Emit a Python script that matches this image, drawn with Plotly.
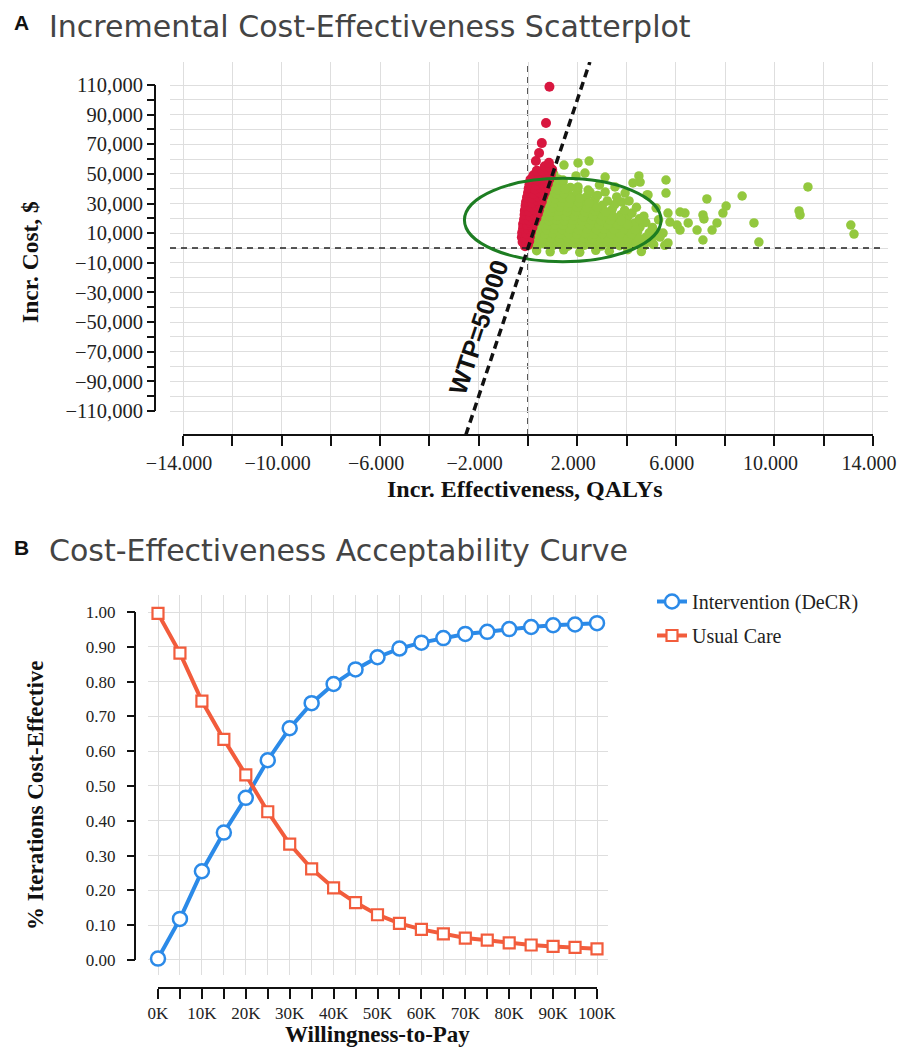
import plotly.graph_objects as go

# ---------------- Panel A data (Incr. effectiveness QALYs, Incr. cost $k) ----------------
green_points = [
    (0.35, -1.8), (0.9, -2.6), (1.45, -1.2), (2.1, -2.9), (2.75, -1.6), (3.3, -2.2), (4.05, -1.1), (4.6, -2.4),
    (0.08, 2.1), (0.38, 1.4), (0.7, 2.6), (1.02, 1.7), (1.33, 2.4), (1.62, 1.2), (1.95, 2.8), (2.3, 1.9),
    (2.62, 2.5), (2.98, 1.3), (3.35, 2.2), (3.72, 1.6), (4.2, 2.7), (4.7, 1.4), (5.1, 2.3), (5.55, 1.8),
    (0.14, 5.3), (0.45, 4.6), (0.76, 5.8), (1.08, 4.9), (1.4, 5.6), (1.72, 4.4), (2.05, 5.5), (2.38, 4.8),
    (2.72, 5.9), (3.08, 4.5), (3.42, 5.4), (3.8, 4.9), (4.25, 5.7), (4.62, 4.3), (5.0, 5.2),
    (0.2, 8.2), (0.5, 7.6), (0.82, 8.7), (1.12, 7.9), (1.45, 8.5), (1.78, 7.4), (2.12, 8.8), (2.46, 7.8),
    (2.82, 8.4), (3.18, 7.5), (3.52, 8.9), (3.92, 7.7), (4.35, 8.3), (4.78, 7.2), (5.3, 8.0),
    (0.26, 11.3), (0.56, 10.6), (0.87, 11.8), (1.18, 10.9), (1.5, 11.5), (1.84, 10.4), (2.17, 11.7),
    (2.52, 10.8), (2.88, 11.4), (3.24, 10.5), (3.62, 11.9), (4.02, 10.7), (4.45, 11.2), (4.92, 10.3),
    (0.31, 14.2), (0.62, 13.6), (0.92, 14.8), (1.22, 13.9), (1.56, 14.5), (1.9, 13.4), (2.26, 14.7),
    (2.62, 13.8), (2.98, 14.4), (3.34, 13.5), (3.74, 14.9), (4.14, 13.7), (4.55, 14.3), (5.05, 13.9),
    (0.37, 17.4), (0.66, 16.6), (0.97, 17.8), (1.27, 16.9), (1.62, 17.5), (1.97, 16.4), (2.32, 17.7),
    (2.72, 16.8), (3.08, 17.3), (3.48, 16.5), (3.88, 17.9), (4.32, 16.7), (4.78, 17.2),
    (0.43, 20.3), (0.72, 19.6), (1.02, 20.8), (1.32, 19.9), (1.67, 20.5), (2.02, 19.4), (2.42, 20.7),
    (2.82, 19.8), (3.22, 20.4), (3.62, 19.5), (4.05, 20.9), (4.52, 19.7),
    (0.49, 23.2), (0.77, 22.6), (1.07, 23.8), (1.37, 22.9), (1.72, 23.5), (2.08, 22.4), (2.48, 23.7),
    (2.92, 22.8), (3.32, 23.3), (3.78, 22.5), (4.22, 23.6),
    (0.55, 26.1), (0.82, 25.6), (1.12, 26.7), (1.42, 25.9), (1.78, 26.5), (2.12, 25.4), (2.52, 26.6),
    (2.97, 25.8), (3.42, 26.3), (3.92, 25.5),
    (0.61, 29.2), (0.87, 28.6), (1.17, 29.7), (1.47, 28.9), (1.82, 29.4), (2.22, 28.5), (2.62, 29.6),
    (3.02, 28.8), (3.52, 29.3),
    (0.67, 32.1), (0.92, 31.6), (1.22, 32.7), (1.52, 31.9), (1.87, 32.4), (2.27, 31.5), (2.72, 32.6), (3.22, 31.8),
    (0.73, 35.2), (0.97, 34.6), (1.27, 35.7), (1.57, 34.9), (1.92, 35.4), (2.37, 34.5), (2.82, 35.5),
    (0.79, 38.1), (1.02, 37.6), (1.32, 38.6), (1.62, 37.9), (2.02, 38.4), (2.52, 37.5),
    (0.85, 41.2), (1.07, 40.6), (1.37, 41.5), (1.72, 40.9),
    (0.91, 44.1), (1.12, 43.6), (1.42, 44.4),
    (0.97, 47.2), (1.22, 46.6), (1.04, 50.1),
    (1.46, 56.0), (2.03, 57.4), (2.48, 58.7), (2.31, 50.6), (1.95, 48.6), (1.42, 45.9), (3.13, 47.9),
    (3.53, 41.2), (4.5, 48.6), (4.55, 44.5), (5.6, 45.9), (5.6, 37.1), (4.87, 35.8), (3.13, 37.8),
    (3.81, 31.0), (2.03, 41.2), (2.44, 39.1), (4.26, 43.9), (3.94, 37.1), (4.83, 35.8),
    (5.03, 3.4), (5.68, 3.4), (6.05, 15.5), (6.17, 12.1), (5.76, 17.5), (5.68, 23.6), (5.48, 10.1),
    (5.36, 7.4), (5.07, 12.1),
    (6.17, 24.3), (6.37, 23.6), (6.5, 16.9), (6.86, 12.1), (7.1, 22.3), (7.14, 19.6), (7.26, 33.1),
    (7.1, 5.4), (7.47, 12.1), (7.67, 16.9), (7.91, 23.6), (8.04, 28.3), (8.69, 35.1), (9.17, 16.9),
    (9.37, 4.0), (11.0, 25.0), (11.04, 22.3), (11.36, 41.2), (13.1, 15.5), (13.23, 9.4),
    (4.4, 27.5), (4.1, 31.8), (5.2, 27.0), (4.7, 21.5), (5.3, 19.0), (3.6, 34.5), (2.9, 42.5),
]

# extra points filling the dense core of the cloud
green_core_points = [
    (0.25, 3.5), (0.58, 3.4), (0.9, 3.7), (1.22, 3.3), (1.55, 3.6), (1.85, 3.4), (2.18, 3.8), (2.5, 3.3),
    (2.85, 3.6), (3.2, 3.4), (3.58, 3.7), (4.0, 3.3), (4.45, 3.6),
    (0.3, 6.6), (0.62, 6.4), (0.95, 6.8), (1.28, 6.5), (1.6, 6.7), (1.92, 6.3), (2.25, 6.8), (2.6, 6.4),
    (2.95, 6.7), (3.3, 6.5), (3.65, 6.8), (4.05, 6.4), (4.5, 6.6),
    (0.35, 9.6), (0.68, 9.4), (1.0, 9.8), (1.32, 9.5), (1.65, 9.7), (1.98, 9.3), (2.32, 9.8), (2.66, 9.4),
    (3.02, 9.7), (3.38, 9.5), (3.75, 9.8), (4.2, 9.4),
    (0.4, 12.6), (0.75, 12.4), (1.05, 12.8), (1.38, 12.5), (1.7, 12.7), (2.05, 12.3), (2.4, 12.8),
    (2.78, 12.4), (3.1, 12.7), (3.5, 12.5), (3.9, 12.8), (4.35, 12.4),
    (0.48, 15.7), (0.8, 15.4), (1.1, 15.8), (1.43, 15.5), (1.78, 15.7), (2.12, 15.3), (2.5, 15.8),
    (2.88, 15.4), (3.25, 15.7), (3.65, 15.5), (4.05, 15.8),
    (0.53, 18.6), (0.85, 18.4), (1.15, 18.8), (1.48, 18.5), (1.82, 18.7), (2.2, 18.3), (2.58, 18.8),
    (2.95, 18.4), (3.35, 18.7), (3.78, 18.5),
    (0.58, 21.5), (0.88, 21.3), (1.2, 21.7), (1.52, 21.4), (1.88, 21.6), (2.25, 21.2), (2.65, 21.7),
    (3.05, 21.4), (3.45, 21.6),
    (0.65, 24.6), (0.95, 24.3), (1.25, 24.8), (1.58, 24.5), (1.95, 24.7), (2.3, 24.3), (2.72, 24.8), (3.15, 24.4),
    (0.7, 27.5), (1.0, 27.3), (1.3, 27.7), (1.62, 27.4), (2.0, 27.6), (2.4, 27.2), (2.8, 27.7),
    (0.76, 30.6), (1.05, 30.3), (1.35, 30.8), (1.68, 30.5), (2.05, 30.7), (2.48, 30.3),
    (0.82, 33.5), (1.1, 33.3), (1.4, 33.7), (1.72, 33.4), (2.1, 33.6),
    (0.88, 36.5), (1.15, 36.3), (1.45, 36.7),
    (0.92, 39.6), (1.2, 39.4), (1.5, 39.8),
]

red_points = [
    (-0.12, 1.2), (0.0, 2.2),
    (-0.22, 4.1), (-0.08, 3.6), (0.05, 4.8),
    (-0.25, 7.2), (-0.1, 6.6), (0.08, 7.8),
    (-0.24, 10.3), (-0.06, 9.7), (0.12, 10.8),
    (-0.2, 13.4), (0.0, 12.8), (0.18, 13.9),
    (-0.2, 16.2), (-0.04, 15.6), (0.12, 16.8), (0.26, 17.2),
    (-0.16, 19.3), (0.04, 18.7), (0.22, 19.6), (0.34, 20.1),
    (-0.14, 22.4), (0.08, 21.8), (0.26, 22.6), (0.4, 23.1),
    (-0.13, 25.2), (0.04, 24.6), (0.24, 25.8), (0.44, 25.4),
    (-0.1, 28.3), (0.12, 27.7), (0.32, 28.6), (0.5, 28.9),
    (-0.08, 31.1), (0.16, 30.6), (0.38, 31.7), (0.56, 31.4),
    (-0.04, 34.2), (0.18, 33.6), (0.42, 34.5), (0.62, 34.8),
    (0.0, 37.2), (0.22, 36.6), (0.46, 37.7), (0.68, 37.3),
    (0.03, 40.3), (0.28, 39.7), (0.52, 40.6), (0.74, 40.1),
    (0.06, 43.1), (0.32, 42.6), (0.58, 43.5), (0.8, 43.2),
    (0.1, 46.2), (0.38, 45.7), (0.62, 46.6), (0.86, 46.3),
    (0.22, 49.1), (0.48, 48.6), (0.72, 49.6), (0.92, 49.3),
    (0.36, 52.2), (0.6, 51.8), (0.82, 52.6), (0.98, 52.9),
    (0.68, 55.1), (0.88, 54.7), (0.85, 57.5),
    (0.32, 58.7), (0.45, 64.1), (0.56, 70.8), (0.73, 84.3), (0.87, 108.8),
]

wtp_threshold = 50000
ellipse_qaly = [-2.58, 5.40]
ellipse_cost = [-9250, 47000]

a_x_ticks = [-14, -12, -10, -8, -6, -4, -2, 0, 2, 4, 6, 8, 10, 12, 14]
a_x_labels = ["\u221214.000", "", "\u221210.000", "", "\u22126.000", "", "\u22122.000", "",
              "2.000", "", "6.000", "", "10.000", "", "14.000"]
a_y_ticks = [-110000, -90000, -70000, -50000, -30000, -10000, 10000, 30000, 50000, 70000, 90000, 110000]
a_y_labels = ["\u2212110,000", "\u221290,000", "\u221270,000", "\u221250,000", "\u221230,000", "\u221210,000",
              "10,000", "30,000", "50,000", "70,000", "90,000", "110,000"]
a_y_minor = [-100000, -80000, -60000, -40000, -20000, 0, 20000, 40000, 60000, 80000, 100000]

# ---------------- Panel B data ----------------
wtp_values = [0, 5000, 10000, 15000, 20000, 25000, 30000, 35000, 40000, 45000, 50000,
              55000, 60000, 65000, 70000, 75000, 80000, 85000, 90000, 95000, 100000]
p_intervention = [0.004, 0.118, 0.255, 0.366, 0.466, 0.574, 0.666, 0.738, 0.793, 0.835, 0.870,
                  0.895, 0.912, 0.925, 0.937, 0.943, 0.951, 0.957, 0.962, 0.964, 0.968]
p_usual = [0.996, 0.882, 0.744, 0.634, 0.532, 0.426, 0.333, 0.262, 0.207, 0.165, 0.130,
           0.105, 0.088, 0.075, 0.063, 0.057, 0.049, 0.043, 0.039, 0.036, 0.032]
b_x_labels = ["0K", "", "10K", "", "20K", "", "30K", "", "40K", "", "50K", "", "60K", "",
              "70K", "", "80K", "", "90K", "", "100K"]
b_y_ticks = [0.0, 0.1, 0.2, 0.3, 0.4, 0.5, 0.6, 0.7, 0.8, 0.9, 1.0]

# ---------------- layout helpers (pixel -> paper) ----------------
OFF = 8
W, H = 905 - OFF, 1048 - OFF


def px(x):
    return (x - OFF) / W


def py(y):
    return 1 - (y - OFF) / H


SERIF = "Liberation Serif"
SANS = "DejaVu Sans"
GRID = "#dedede"

fig = go.Figure()

all_green = green_points + green_core_points
fig.add_trace(go.Scatter(
    x=[p[0] for p in all_green], y=[p[1] * 1000 for p in all_green],
    mode="markers", marker=dict(color="#93c83e", size=9.5), showlegend=False,
    xaxis="x", yaxis="y"))
fig.add_trace(go.Scatter(
    x=[p[0] for p in red_points], y=[p[1] * 1000 for p in red_points],
    mode="markers", marker=dict(color="#d8173f", size=10), showlegend=False,
    xaxis="x", yaxis="y"))

fig.add_trace(go.Scatter(
    x=wtp_values, y=p_intervention, name="Intervention (DeCR)", mode="lines+markers",
    line=dict(color="#2b8ae8", width=4),
    marker=dict(symbol="circle", size=14, color="white", line=dict(color="#2b8ae8", width=2.5)),
    xaxis="x2", yaxis="y2", legendgroup="a"))
fig.add_trace(go.Scatter(
    x=wtp_values, y=p_usual, name="Usual Care", mode="lines+markers",
    line=dict(color="#f25c3c", width=4),
    marker=dict(symbol="square", size=11, color="white", line=dict(color="#f25c3c", width=2.2)),
    xaxis="x2", yaxis="y2", legendgroup="b"))

# Axis geometry (pixels)
A_left, A_right, A_top, A_bot = 170, 888, 62, 435
A_xr = [-14.528, 14.609]
A_yr = [-126196, 125522]
B_left, B_right, B_top, B_bot = 148, 608, 595, 975
B_xr = [-2278, 102506]
B_yr = [-0.0432, 1.0489]

tickfont_a = dict(family=SERIF, size=20, color="#222")
tickfont_b = dict(family=SERIF, size=17, color="#222")

fig.update_layout(
    width=W, height=H, margin=dict(l=0, r=0, t=0, b=0, autoexpand=False),
    paper_bgcolor="white", plot_bgcolor="white",
    xaxis=dict(domain=[px(A_left), px(A_right)], range=A_xr, anchor="free", position=py(A_bot),
               tickmode="array", tickvals=a_x_ticks, ticktext=a_x_labels,
               ticks="outside", ticklen=10, tickwidth=2, tickcolor="#111", ticklabelshift=-4,
               showgrid=True, gridcolor=GRID, gridwidth=1, zeroline=False, showline=False,
               tickfont=tickfont_a, automargin=False, ticklabeloverflow="allow"),
    yaxis=dict(domain=[py(A_bot), py(A_top)], range=A_yr, anchor="free", position=px(155),
               tickmode="array", tickvals=a_y_ticks, ticktext=a_y_labels,
               ticks="outside", ticklen=8, tickwidth=2, tickcolor="#111",
               minor=dict(tickmode="array", tickvals=a_y_minor, ticks="outside", ticklen=8,
                          tickwidth=2, tickcolor="#111", showgrid=True, gridcolor=GRID),
               showgrid=True, gridcolor=GRID, gridwidth=1, zeroline=False, showline=False,
               tickfont=dict(family=SERIF, size=20.5, color="#222"), automargin=False,
               ticklabeloverflow="allow"),
    xaxis2=dict(domain=[px(B_left), px(B_right)], range=B_xr, anchor="free", position=py(988),
                tickmode="array", tickvals=wtp_values, ticktext=b_x_labels,
                ticks="outside", ticklen=10, tickwidth=2, tickcolor="#111",
                showgrid=True, gridcolor=GRID, zeroline=False, showline=False, tickfont=tickfont_b,
                automargin=False, ticklabeloverflow="allow"),
    yaxis2=dict(domain=[py(B_bot), py(B_top)], range=B_yr, anchor="free", position=px(135),
                tickmode="array", tickvals=b_y_ticks, tickformat=".2f",
                ticks="outside", ticklen=8, tickwidth=2, tickcolor="#111", ticklabelstandoff=8,
                showgrid=True, gridcolor=GRID, zeroline=False, showline=False, tickfont=tickfont_b,
                automargin=False, ticklabeloverflow="allow"),
    legend=dict(x=px(652), y=py(582), xanchor="left", yanchor="top",
                font=dict(family=SERIF, size=20, color="#222"),
                tracegroupgap=5, bgcolor="rgba(0,0,0,0)"),
)

shapes = []
# Panel A axis lines
shapes.append(dict(type="line", xref="paper", yref="y", x0=px(155), x1=px(155),
                   y0=a_y_ticks[0], y1=a_y_ticks[-1], line=dict(color="#111", width=2)))
shapes.append(dict(type="line", xref="x", yref="paper", x0=a_x_ticks[0], x1=a_x_ticks[-1],
                   y0=py(A_bot), y1=py(A_bot), line=dict(color="#111", width=2)))
# Panel A reference lines
shapes.append(dict(type="line", xref="x", yref="y domain", x0=0, x1=0, y0=0, y1=1,
                   line=dict(color="#222", width=1.5, dash="6px,5px"), layer="below"))
shapes.append(dict(type="line", xref="x domain", yref="y", x0=0, x1=0.995, y0=0, y1=0,
                   line=dict(color="#222", width=1.5, dash="6px,5px"), layer="above"))
shapes.append(dict(type="circle", xref="x", yref="y", x0=ellipse_qaly[0], x1=ellipse_qaly[1],
                   y0=ellipse_cost[0], y1=ellipse_cost[1], line=dict(color="#1d7d22", width=3)))
shapes.append(dict(type="line", xref="x", yref="y",
                   x0=A_yr[0] / wtp_threshold, x1=A_yr[1] / wtp_threshold, y0=A_yr[0], y1=A_yr[1],
                   line=dict(color="#111", width=3.5, dash="8px,5px")))
# Panel B axis lines
shapes.append(dict(type="line", xref="paper", yref="y2", x0=px(135), x1=px(135),
                   y0=b_y_ticks[0], y1=b_y_ticks[-1], line=dict(color="#111", width=2)))
shapes.append(dict(type="line", xref="x2", yref="paper", x0=wtp_values[0], x1=wtp_values[-1],
                   y0=py(988), y1=py(988), line=dict(color="#111", width=2)))
fig.update_layout(shapes=shapes)


def label(text, x, y, size, family=SERIF, color="#111", angle=0, xanchor="center"):
    return dict(text=text, x=px(x), y=py(y), xref="paper", yref="paper", xanchor=xanchor,
                yanchor="middle", textangle=angle, showarrow=False,
                font=dict(family=family, size=size, color=color))


ann = [
    label("<b>A</b>", 12, 23, 21, family="Liberation Sans", xanchor="left"),
    label("Incremental Cost-Effectiveness Scatterplot", 47, 26, 30, family=SANS, color="#444", xanchor="left"),
    label("<b>B</b>", 12, 547, 21, family="Liberation Sans", xanchor="left"),
    label("Cost-Effectiveness Acceptability Curve", 47, 550, 30, family=SANS, color="#444", xanchor="left"),
    label("<b>Incr. Cost, $</b>", 30, 262, 23.5, angle=-90),
    label("<b>Incr. Effectiveness, QALYs</b>", 525, 489, 24),
    label("<b>% Iterations Cost-Effective</b>", 35, 795, 23, angle=-90),
    label("<b>Willingness-to-Pay</b>", 377, 1034, 23),
]
ann.append(dict(text="<b>WTP=50000</b>", x=-2.02, y=-53100, xref="x", yref="y", textangle=-71.6,
                showarrow=False, font=dict(family="Liberation Sans", size=25, color="#111")))
fig.update_layout(annotations=ann)

fig.write_html("out.html")
